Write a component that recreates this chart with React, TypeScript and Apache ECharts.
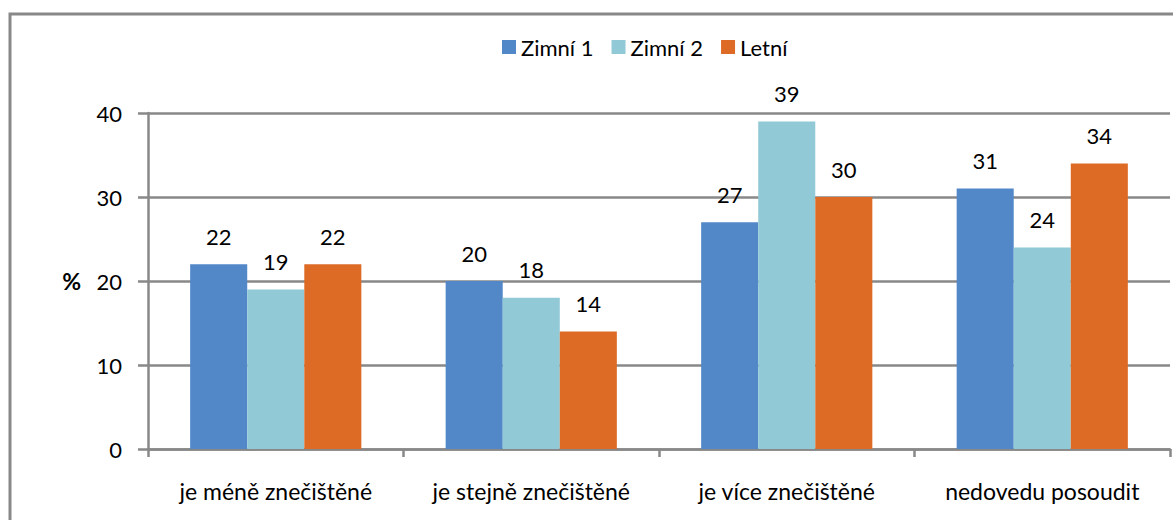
import React, { useEffect, useRef } from "react";
import * as echarts from "echarts";

const categories = ["je méně znečištěné", "je stejně znečištěné", "je více znečištěné", "nedovedu posoudit"];
const seriesNames = ["Zimní 1", "Zimní 2", "Letní"];
const zimni1 = [22, 20, 27, 31];
const zimni2 = [19, 18, 39, 24];
const letni = [22, 14, 30, 34];
const colors = ["#5287C8", "#92C9D6", "#DD6B26"];

const FONT = "Lato, 'Noto Sans', sans-serif";

export default function App() {
  const ref = useRef<HTMLDivElement>(null);
  useEffect(() => {
    document.body.style.margin = "0";
    const chart = echarts.init(ref.current!, null, { renderer: "svg" });
    const data = [zimni1, zimni2, letni];
    chart.setOption({
      animation: false,
      textStyle: { fontFamily: FONT },
      graphic: [
        {
          type: "rect",
          shape: { x: 10, y: 14, width: 1300, height: 700 },
          style: { fill: "none", stroke: "#888888", lineWidth: 3 },
          silent: true,
        },
      ],
      legend: {
        top: 31,
        left: 497,
        itemWidth: 14,
        itemHeight: 14,
        itemGap: 18,
        icon: "rect",
        textStyle: { fontSize: 22, color: "#000", fontFamily: FONT },
        data: seriesNames,
      },
      grid: { left: 148, right: 3, top: 113, bottom: 71, containLabel: false },
      xAxis: {
        type: "category",
        data: categories,
        axisLine: { lineStyle: { color: "#888888", width: 2.5 } },
        axisTick: { show: true, interval: 0, length: 8, lineStyle: { color: "#888888", width: 2.5 } },
        axisLabel: { interval: 0, hideOverlap: false, margin: 30, fontSize: 23, color: "#000", fontFamily: FONT },
      },
      yAxis: {
        type: "value",
        min: 0,
        max: 40,
        interval: 10,
        name: "%",
        nameLocation: "middle",
        nameGap: 67,
        nameRotate: 0,
        nameTextStyle: { fontSize: 23, fontWeight: "bold", color: "#000", fontFamily: FONT },
        axisLine: { show: true, lineStyle: { color: "#888888", width: 2.5 } },
        axisTick: { show: true, length: 10, lineStyle: { color: "#888888", width: 2.5 } },
        axisLabel: { margin: 26, fontSize: 22, color: "#000", fontFamily: FONT },
        splitLine: { lineStyle: { color: "#888888", width: 2.5 } },
      },
      series: seriesNames.map((name, i) => ({
        name,
        type: "bar",
        data: data[i],
        barGap: "0%",
        barCategoryGap: "33%",
        itemStyle: { color: colors[i] },
        label: {
          show: true,
          position: "top",
          distance: 17,
          fontSize: 22,
          color: "#000",
          fontFamily: FONT,
        },
      })),
    });
    return () => chart.dispose();
  }, []);
  return <div ref={ref} style={{ width: 1173, height: 520 }} />;
}
